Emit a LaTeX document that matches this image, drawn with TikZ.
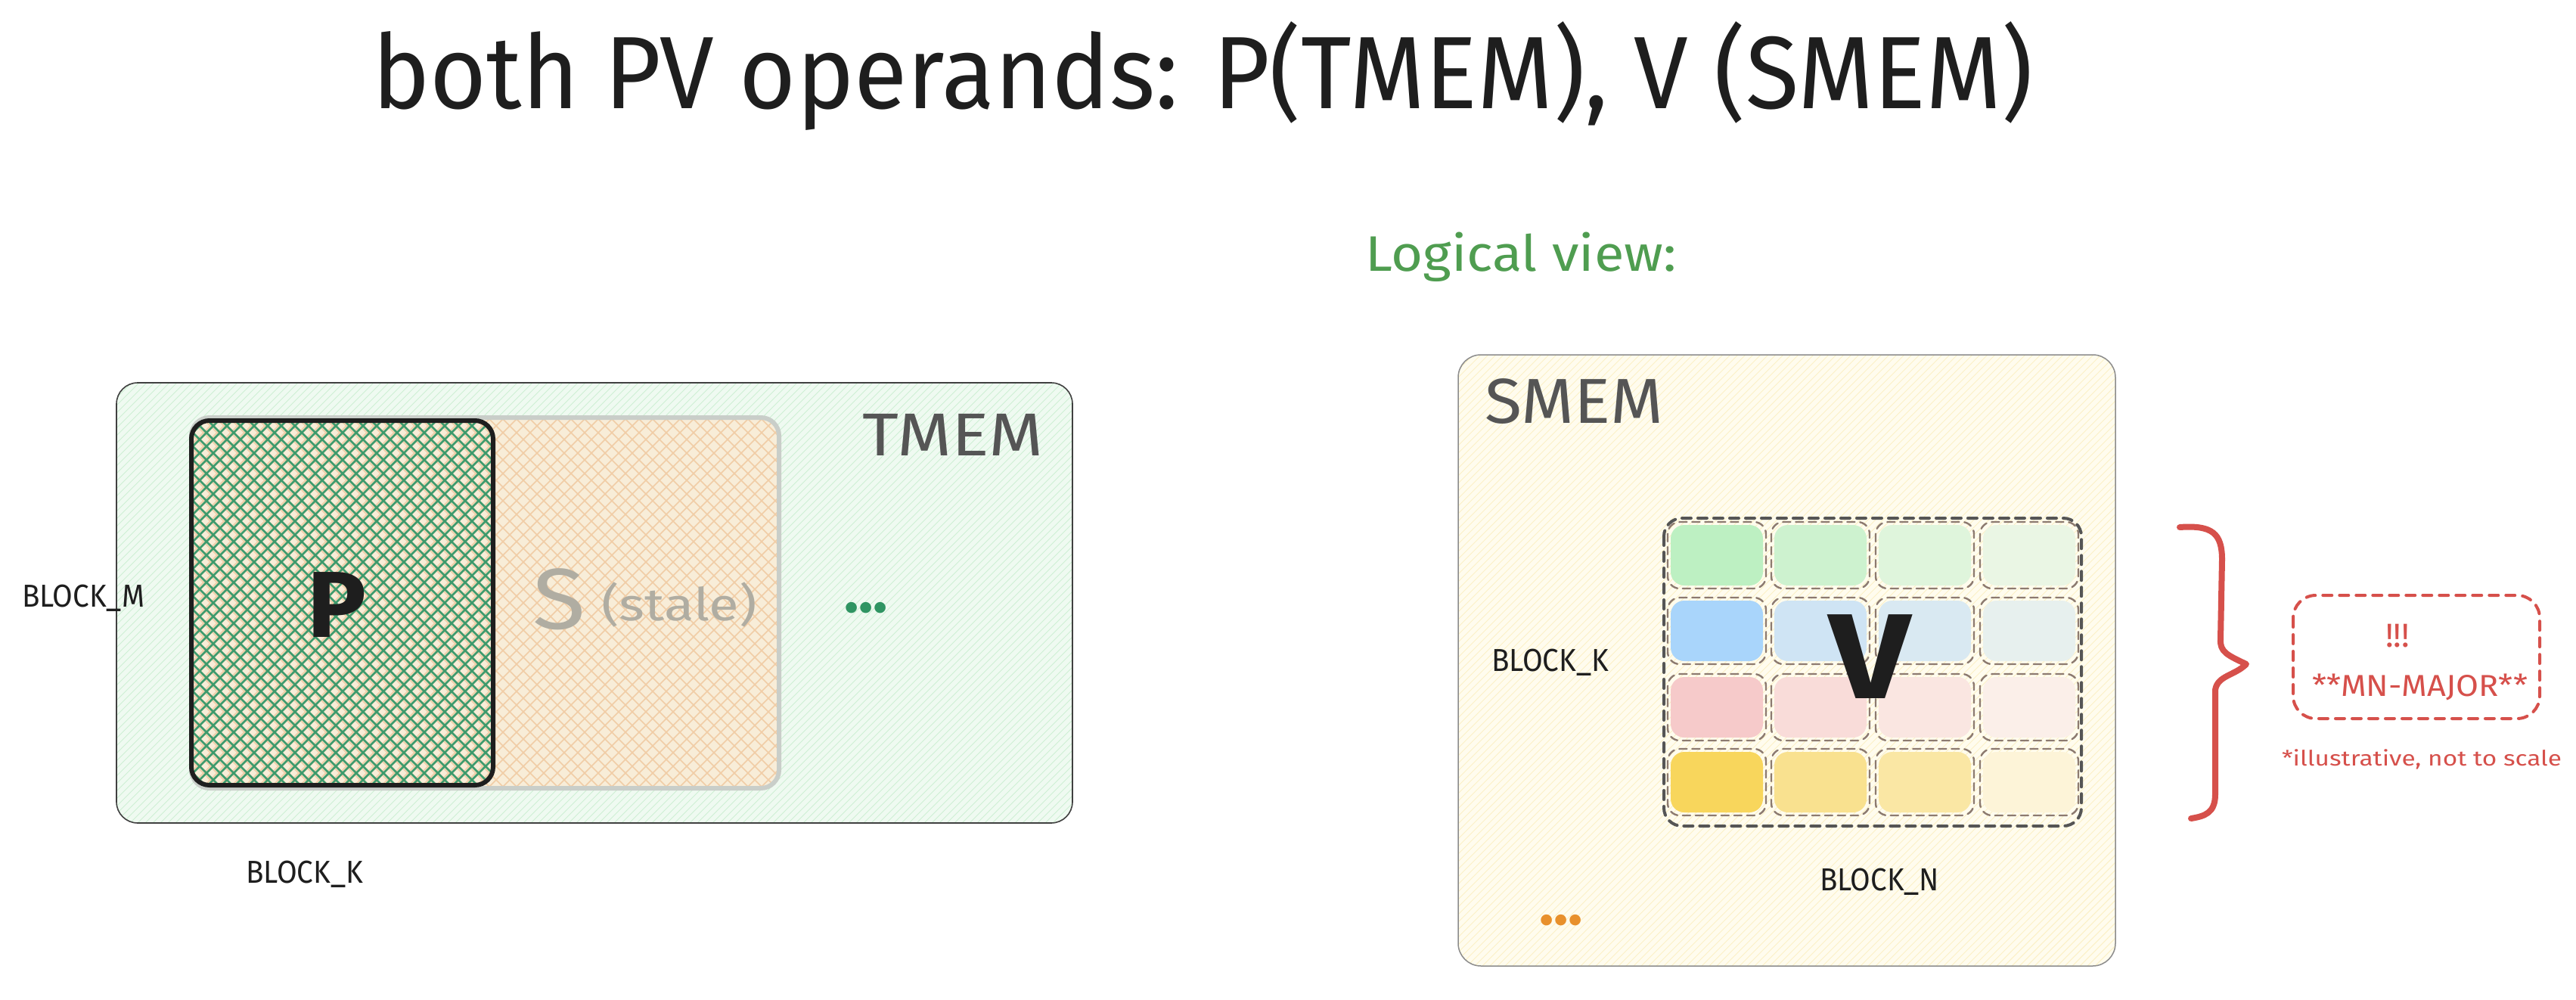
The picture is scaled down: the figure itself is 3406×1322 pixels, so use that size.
\documentclass[tikz,border=0pt]{standalone}
\usepackage{fontspec}
\setmainfont{Fira Sans}
\usetikzlibrary{calc}
\definecolor{ink}{HTML}{1E1E1E}
\definecolor{labgray}{HTML}{555555}
\definecolor{lgreen}{HTML}{4F9D50}
\definecolor{tmemfill}{HTML}{EFFAF1}
\definecolor{tmemhatch}{HTML}{CDEFD3}
\definecolor{smemfill}{HTML}{FFFCEE}
\definecolor{smemhatch}{HTML}{FBF0C6}
\definecolor{sfill}{HTML}{F8EDD8}
\definecolor{shatch}{HTML}{F1CDA6}
\definecolor{sborder}{HTML}{C9CEC9}
\definecolor{phatch}{HTML}{3E9A6C}
\definecolor{stale}{HTML}{B0ADA2}
\definecolor{dotgreen}{HTML}{2F9462}
\definecolor{dotorange}{HTML}{E8902C}
\definecolor{cellline}{HTML}{8C7A70}
\definecolor{redc}{HTML}{D6504B}
\definecolor{gA}{HTML}{BDF0C2}\definecolor{gB}{HTML}{CDF2CF}\definecolor{gC}{HTML}{DFF5DC}\definecolor{gD}{HTML}{EAF6E4}
\definecolor{bA}{HTML}{A9D5FB}\definecolor{bB}{HTML}{CFE4F4}\definecolor{bC}{HTML}{D9E9F2}\definecolor{bD}{HTML}{E7F0EE}
\definecolor{rA}{HTML}{F6CACA}\definecolor{rB}{HTML}{F9DCD9}\definecolor{rC}{HTML}{FAE6E1}\definecolor{rD}{HTML}{FBEFE9}
\definecolor{yA}{HTML}{F8D65C}\definecolor{yB}{HTML}{F9E18F}\definecolor{yC}{HTML}{FAE7A4}\definecolor{yD}{HTML}{FDF4D8}
\newcommand\fitw[2]{\resizebox{#1}{\height}{#2}}
% hatch lines lower-left -> upper-right inside (x0,y0)-(x1,y1)
\newcommand\hatchNE[6]{%
  \pgfmathsetmacro\hatchH{#4-#2}%
  \pgfmathsetmacro\hatchT{#3-#1+\hatchH}%
  \foreach \hh in {0,#5,...,\hatchT} \draw[#6] (#1+\hh-\hatchH,#4) -- ++(\hatchH,-\hatchH);}
\newcommand\hatchNW[6]{%
  \pgfmathsetmacro\hatchH{#4-#2}%
  \pgfmathsetmacro\hatchT{#3-#1+\hatchH}%
  \foreach \hh in {0,#5,...,\hatchT} \draw[#6] (#1+\hh,#4) -- ++(-\hatchH,-\hatchH);}
\begin{document}
\begin{tikzpicture}[x=0.5pt,y=-0.5pt,
  txt/.style={inner sep=0pt, outer sep=0pt, anchor=base west},
  cellbox/.style={draw=cellline, line width=1.2pt, dash pattern=on 5pt off 3.5pt, line cap=round, rounded corners=8pt}]
\useasboundingbox (0,0) rectangle (3406,1322);
\fill[white] (0,0) rectangle (3406,1322);

% ---------- title ----------
\node[txt, font=\fontsize{68}{80}\selectfont, text=ink] (title) at (492,143)
  {\fitw{1098pt}{both PV operands: P(TMEM), V (SMEM)}};
\node[txt, font=\fontsize{33}{40}\selectfont, text=lgreen] (logical) at (1805,358)
  {\fitw{206pt}{Logical view:}};

% ---------- TMEM ----------
\coordinate (tmemNW) at (154,506);
\coordinate (tmemSE) at (1418,1088);
\fill[tmemfill, rounded corners=14pt] (tmemNW) rectangle (tmemSE);
\begin{scope}
  \clip[rounded corners=14pt] (tmemNW) rectangle (tmemSE);
  \hatchNE{154}{506}{1418}{1088}{10}{tmemhatch, line width=0.5pt}
\end{scope}
\draw[ink!85, line width=0.8pt, rounded corners=14pt] (tmemNW) rectangle (tmemSE);

% S (stale) box
\coordinate (sNW) at (253,552);
\coordinate (sSE) at (1030,1042);
\fill[sfill, rounded corners=12pt] (sNW) rectangle (sSE);
\begin{scope}
  \clip[rounded corners=12pt] (sNW) rectangle (sSE);
  \hatchNE{253}{552}{1030}{1042}{18}{shatch, line width=0.8pt}
  \hatchNW{253}{552}{1030}{1042}{18}{shatch, line width=0.8pt}
\end{scope}
\draw[sborder, line width=3pt, rounded corners=12pt] (sNW) rectangle (sSE);

% P box
\coordinate (pNW) at (253,556);
\coordinate (pSE) at (652,1038);
\begin{scope}
  \clip[rounded corners=12pt] (pNW) rectangle (pSE);
  \hatchNE{253}{556}{652}{1038}{18}{phatch, line width=1.25pt}
  \hatchNW{253}{556}{652}{1038}{18}{phatch, line width=1.25pt}
\end{scope}
\draw[ink, line width=3pt, rounded corners=12pt] (pNW) rectangle (pSE);

\node[txt, font=\fontsize{62}{70}\selectfont\bfseries, text=ink] (Plab) at (406,842) {\fitw{39pt}{P}};
\node[txt, font=\fontsize{57}{64}\selectfont, text=stale] (Slab) at (704,831) {\fitw{35pt}{S}};
\node[txt, font=\fontsize{30}{36}\selectfont, text=stale] (stalelab) at (795,820) {\fitw{103pt}{(stale)}};
\node[txt, font=\fontsize{40}{48}\selectfont, text=labgray] (tmemlab) at (1140,602) {\fitw{120pt}{TMEM}};
\node[txt, font=\fontsize{40}{48}\selectfont\bfseries, text=dotgreen] (gdots) at (1116,809) {\fitw{29pt}{...}};

\node[txt, font=\fontsize{21}{25}\selectfont, text=ink] (blockm) at (29,802) {\fitw{81pt}{BLOCK\_M}};
\node[txt, font=\fontsize{21}{25}\selectfont, text=ink] (blockkL) at (325,1167) {\fitw{77.5pt}{BLOCK\_K}};

% ---------- SMEM ----------
\coordinate (smNW) at (1928,469);
\coordinate (smSE) at (2797,1277);
\fill[smemfill, rounded corners=15pt] (smNW) rectangle (smSE);
\begin{scope}
  \clip[rounded corners=15pt] (smNW) rectangle (smSE);
  \hatchNE{1928}{469}{2797}{1277}{10}{smemhatch, line width=0.5pt}
\end{scope}
\draw[black!45, line width=0.75pt, rounded corners=15pt] (smNW) rectangle (smSE);
\node[txt, font=\fontsize{42}{50}\selectfont, text=labgray] (smemlab) at (1963,559) {\fitw{118pt}{SMEM}};

% cells
\foreach \row/\ry in {0/690,1/790,2/891,3/990}{
  \foreach \col/\cx in {0/2205,1/2342,2/2480,3/2618}{
    \pgfmathsetmacro\ci{int(\row*4+\col)}
    \ifcase\ci \def\cc{gA}\or\def\cc{gB}\or\def\cc{gC}\or\def\cc{gD}%
    \or\def\cc{bA}\or\def\cc{bB}\or\def\cc{bC}\or\def\cc{bD}%
    \or\def\cc{rA}\or\def\cc{rB}\or\def\cc{rC}\or\def\cc{rD}%
    \or\def\cc{yA}\or\def\cc{yB}\or\def\cc{yC}\or\def\cc{yD}\fi
    \fill[\cc, rounded corners=9pt] (\cx+4,\ry+4) rectangle (\cx+126,\ry+84);
    \draw[cellbox] (\cx,\ry) rectangle (\cx+130,\ry+88);
  }
}
\draw[labgray, line width=2pt, dash pattern=on 6pt off 4.5pt, line cap=round, rounded corners=12pt] (2200,685) rectangle (2752,1092);
\node[txt, font=\fontsize{80}{90}\selectfont\bfseries, text=ink] (Vlab) at (2418,923) {\fitw{54pt}{V}};

\node[txt, font=\fontsize{21}{25}\selectfont, text=ink] (blockkR) at (1972,887) {\fitw{77.5pt}{BLOCK\_K}};
\node[txt, font=\fontsize{21}{25}\selectfont, text=ink] (blockn) at (2406,1177) {\fitw{79pt}{BLOCK\_N}};
\node[txt, font=\fontsize{40}{48}\selectfont\bfseries, text=dotorange] (odots) at (2035,1222) {\fitw{29pt}{...}};

% ---------- brace and note ----------
\draw[redc, line width=4pt, line cap=round, line join=round]
  (2882,697) .. controls (2925,694) and (2938,705) .. (2938,740)
  -- (2936,845) .. controls (2935,862) and (2945,866) .. (2970,878)
  .. controls (2955,893) and (2932,893) .. (2929,912)
  -- (2929,1050) .. controls (2929,1075) and (2915,1079) .. (2897,1082);
\draw[redc, line width=2pt, dash pattern=on 6pt off 5pt, line cap=round, rounded corners=15pt] (3032,787) rectangle (3358,950);
\node[inner sep=0pt, anchor=base, font=\fontsize{22}{26}\selectfont, text=redc] (bang) at (3170,855) {!!!};
\node[txt, font=\fontsize{20}{24}\selectfont, text=redc] (mnmajor) at (3057,920) {\fitw{142.5pt}{**MN-MAJOR**}};
\node[txt, font=\fontsize{14}{17}\selectfont, text=redc] (illus) at (3017,1012) {\fitw{185pt}{*illustrative, not to scale}};
\end{tikzpicture}
\end{document}
